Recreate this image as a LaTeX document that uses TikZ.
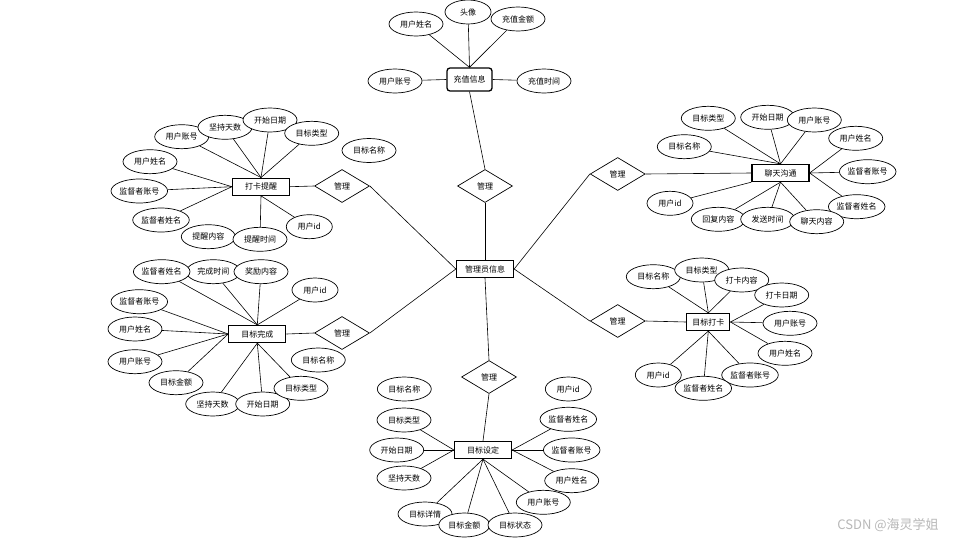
\documentclass[tikz,border=0pt]{standalone}
\usepackage{fontspec}
\setmainfont{Noto Sans CJK SC}
\usetikzlibrary{shapes.geometric}
\pgfdeclarelayer{background}
\pgfsetlayers{background,main}
\begin{document}
\begin{tikzpicture}[x=1pt,y=-1pt,font=\fontsize{8}{9}\selectfont,
  ent/.style={draw,line width=1.3pt,minimum width=57pt,minimum height=17pt,inner sep=0pt,fill=white},
  attr/.style={draw,ellipse,line width=0.7pt,minimum width=54pt,minimum height=24pt,inner sep=0pt,fill=white},
  sattr/.style={attr,minimum width=46pt},
  rel/.style={draw,diamond,line width=0.7pt,minimum width=55pt,minimum height=33pt,inner sep=0pt,fill=white},
  link/.style={line width=0.6pt}]
\useasboundingbox (0,0) rectangle (965,546);

% entities
\node[ent,minimum width=45pt,minimum height=23pt,rounded corners=3pt] (cz) at (469.5,79.5) {充值信息};
\node[ent] (gly) at (485,269) {管理员信息};
\node[ent] (dk) at (261,186.7) {打卡提醒};
\node[ent] (lt) at (780.5,173) {聊天沟通};
\node[ent] (wc) at (257.3,334) {目标完成};
\node[ent,minimum width=43pt] (mk) at (708.3,322) {目标打卡};
\node[ent] (sd) at (483,450) {目标设定};

% relations
\node[rel] (r1) at (485,186) {管理};
\node[rel] (r2) at (342,186) {管理};
\node[rel] (r3) at (342,333) {管理};
\node[rel] (r4) at (617.7,174) {管理};
\node[rel] (r5) at (617.7,321) {管理};
\node[rel] (r6) at (489,377) {管理};

% 充值信息 attributes
\node[sattr] (c1) at (468,12) {头像};
\node[attr] (c2) at (416,24) {用户姓名};
\node[attr] (c3) at (518,19) {充值金额};
\node[attr] (c4) at (395,81) {用户账号};
\node[attr] (c5) at (544,81) {充值时间};

% 打卡提醒 attributes
\node[attr] (a1) at (181.7,136.7) {用户账号};
\node[attr] (a2) at (225,127.3) {坚持天数};
\node[attr] (a3) at (270,120) {开始日期};
\node[attr] (a4) at (311.7,133.3) {目标类型};
\node[attr] (a5) at (369,150.5) {目标名称};
\node[attr] (a6) at (150,161.7) {用户姓名};
\node[attr] (a7) at (139.3,191) {监督者账号};
\node[attr] (a8) at (161,220) {监督者姓名};
\node[attr] (a9) at (208.3,236.7) {提醒内容};
\node[attr] (a10) at (260,239.3) {提醒时间};
\node[sattr] (a11) at (309.3,226.7) {用户id};

% 聊天沟通 attributes
\node[attr] (b1) at (708.3,118.3) {目标类型};
\node[attr] (b2) at (767.7,117.3) {开始日期};
\node[attr] (b3) at (814.3,120) {用户账号};
\node[attr] (b4) at (684.3,146.7) {目标名称};
\node[attr] (b5) at (855.7,138.3) {用户姓名};
\node[attr] (b6) at (867.7,171.7) {监督者账号};
\node[attr] (b7) at (856.7,206.7) {监督者姓名};
\node[sattr] (b8) at (670,203.3) {用户id};
\node[attr] (b9) at (718.3,219.3) {回复内容};
\node[attr] (b10) at (767.7,219.3) {发送时间};
\node[attr] (b11) at (816.7,221.7) {聊天内容};

% 目标完成 attributes
\node[attr] (w2) at (213.3,271.7) {完成时间};
\node[attr] (w1) at (161.7,271.7) {监督者姓名};
\node[attr] (w3) at (261,271.7) {奖励内容};
\node[sattr] (w4) at (315,290) {用户id};
\node[attr] (w5) at (139.3,301.7) {监督者账号};
\node[attr] (w6) at (135,329) {用户姓名};
\node[attr] (w7) at (135,361.7) {用户账号};
\node[attr] (w8) at (176,382.7) {目标金额};
\node[attr] (w9) at (212.7,404) {坚持天数};
\node[attr] (w10) at (262.7,404) {开始日期};
\node[attr] (w11) at (301,388.3) {目标类型};
\node[attr] (w12) at (318.3,360) {目标名称};

% 目标打卡 attributes
\node[attr] (k1) at (653.3,276.7) {目标名称};
\node[attr] (k2) at (701.7,270) {目标类型};
\node[attr] (k3) at (741.7,280) {打卡内容};
\node[attr] (k4) at (781.7,295) {打卡日期};
\node[attr] (k5) at (790,323.3) {用户账号};
\node[attr] (k6) at (785,353.3) {用户姓名};
\node[sattr] (k9) at (658.3,375) {用户id};
\node[attr] (k7) at (750,375) {监督者账号};
\node[attr] (k8) at (703.3,388.3) {监督者姓名};

% 目标设定 attributes
\node[attr] (s1) at (404.3,389) {目标名称};
\node[attr] (s2) at (404,420) {目标类型};
\node[attr] (s3) at (396.7,450) {开始日期};
\node[attr] (s4) at (404,478) {坚持天数};
\node[attr] (s5) at (425,514) {目标详情};
\node[attr,minimum width=51pt] (s6) at (464.3,525) {目标金额};
\node[attr] (s7) at (515,525) {目标状态};
\node[attr] (s8) at (543.3,502.3) {用户账号};
\node[attr] (s9) at (571.7,480.7) {用户姓名};
\node[attr] (s10) at (571.7,450) {监督者账号};
\node[attr] (s11) at (568.3,419.3) {监督者姓名};
\node[sattr] (s12) at (568.3,389) {用户id};

\node[text=black!28,font=\fontsize{13}{14}\selectfont] (wm) at (888,525) {CSDN @海灵学姐};

\begin{pgfonlayer}{background}
\fill[white] (0,0) rectangle (965,546);
% relation links
\draw[link] (cz.south) -- (r1.north);
\draw[link] (r1.south) -- (gly.north);
\draw[link] (dk.east) -- (r2.west);
\draw[link] (r2.east) -- (gly.west);
\draw[link] (wc.east) -- (r3.west);
\draw[link] (r3.east) -- (gly.west);
\draw[link] (gly.east) -- (r4.west);
\draw[link] (r4.east) -- (lt.west);
\draw[link] (gly.east) -- (r5.west);
\draw[link] (r5.east) -- (mk.west);
\draw[link] (gly.south) -- (r6.north);
\draw[link] (r6.south) -- (sd.north);

% 充值信息
\foreach \n in {c1,c2,c3} \draw[link] (cz.north) -- (\n);
\draw[link] (cz.west) -- (c4);
\draw[link] (cz.east) -- (c5);

% 打卡提醒
\foreach \n in {a1,a2,a3,a4} \draw[link] (dk.north) -- (\n);
\foreach \n in {a6,a7,a8} \draw[link] (dk.west) -- (\n);
\foreach \n in {a10,a11} \draw[link] (dk.south) -- (\n);

% 聊天沟通
\foreach \n in {b1,b2,b3,b4} \draw[link] (lt.north) -- (\n);
\foreach \n in {b5,b6,b7} \draw[link] (lt.east) -- (\n);
\draw[link] (lt.south west) -- (b8);
\foreach \n in {b9,b10,b11} \draw[link] (lt.south) -- (\n);

% 目标完成
\foreach \n in {w1,w2,w3,w4} \draw[link] (wc.north) -- (\n);
\foreach \n in {w5,w6,w7,w8} \draw[link] (wc.west) -- (\n);
\foreach \n in {w9,w10,w11} \draw[link] (wc.south) -- (\n);

% 目标打卡
\foreach \n in {k1,k2,k3} \draw[link] (mk.north) -- (\n);
\foreach \n in {k4,k5,k6} \draw[link] (mk.east) -- (\n);
\foreach \n in {k7,k8,k9} \draw[link] (mk.south) -- (\n);

% 目标设定
\foreach \n in {s2,s3,s4} \draw[link] (sd.west) -- (\n);
\foreach \n in {s5,s6,s7,s8} \draw[link] (sd.south) -- (\n);
\foreach \n in {s9,s10,s11} \draw[link] (sd.east) -- (\n);
\end{pgfonlayer}
\end{tikzpicture}
\end{document}
